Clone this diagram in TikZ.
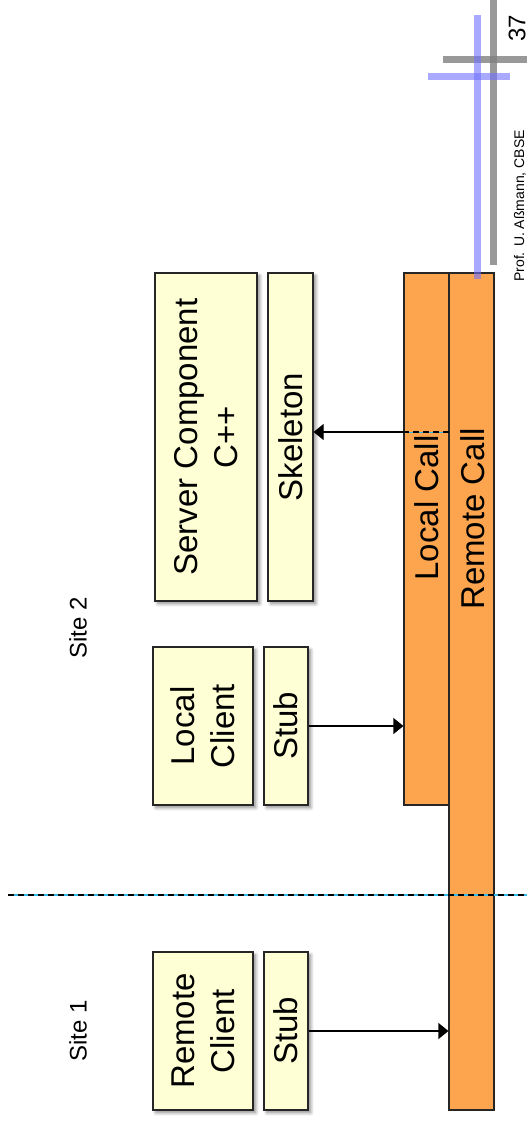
\documentclass[tikz,border=0pt]{standalone}
\usepackage{fontspec}
\setmainfont{Liberation Sans}
\usetikzlibrary{arrows.meta,shadows.blur}
\definecolor{boxyellow}{HTML}{FFFFD6}
\definecolor{callorange}{HTML}{FCA54E}
\definecolor{decoblue}{HTML}{7070FF}
\definecolor{decogray}{HTML}{808080}
\definecolor{sepcyan}{HTML}{33BBEE}
\begin{document}
\begin{tikzpicture}[x=0.5pt,y=-0.5pt,
  box/.style={draw=black!85, fill=boxyellow, line width=0.6pt, rotate=90, inner sep=0pt,
    align=center, font=\fontsize{16.5}{20}\selectfont,
    blur shadow={shadow xshift=1.4pt, shadow yshift=-1.4pt, shadow opacity=45, shadow blur radius=1.6pt, shadow blur steps=6}},
  bar/.style={draw=black!85, fill=callorange, line width=0.6pt, rotate=90, inner sep=0pt,
    minimum height=22.5pt},
  barlabel/.style={rotate=90, inner sep=0pt, font=\fontsize{16.5}{20}\selectfont},
  sitelabel/.style={rotate=90, inner sep=0pt, font=\fontsize{12}{14}\selectfont},
  arr/.style={-{Triangle[length=5pt,width=8pt]}, line width=0.6pt, black},
  deco/.style={line width=3.5pt}
]
\useasboundingbox (0,0) rectangle (531,1121);

% call bars
\node[bar, minimum width=418.5pt] (remotecall) at (471.5,691.5) {};
\node[bar, minimum width=266pt] (localcall) at (426.5,539) {};
\node[barlabel] (lcl) at (427,508) {Local Call};
\node[barlabel] (rcl) at (473,519) {Remote Call};

% components
\node[box, minimum width=164pt, minimum height=51pt] (server) at (206,437) {Server Component\\C++};
\node[box, minimum width=164pt, minimum height=22.5pt] (skeleton) at (290.5,437) {Skeleton};
\node[box, minimum width=79pt, minimum height=50pt] (localclient) at (203,726) {Local\\Client};
\node[box, minimum width=79pt, minimum height=22pt] (stubl) at (286,726) {Stub};
\node[box, minimum width=79pt, minimum height=50pt] (remoteclient) at (203,1031) {Remote\\Client};
\node[box, minimum width=79pt, minimum height=22pt] (stubr) at (286,1031) {Stub};

% site labels
\node[sitelabel] (site1) at (78,1031) {Site 1};
\node[sitelabel] (site2) at (78,628) {Site 2};

% arrows
\draw[arr] (stubl.south) -- (stubl.south -| localcall.north);
\draw[arr] (stubr.south) -- (stubr.south -| remotecall.north);
\coordinate (skc) at (449,432);
\draw[arr] (skc -| localcall.north) -- (skc -| skeleton.south);
\draw[sepcyan, line width=0.5pt] (skc -| localcall.north) -- (skc);
\draw[black, line width=0.6pt, dash pattern=on 3pt off 2pt] (skc -| localcall.north) -- (skc);

% site separator
\coordinate (sepa) at (8,895);
\coordinate (sepb) at (527,895);
\draw[sepcyan, line width=0.6pt] (sepa) -- (sepb);
\draw[black, line width=0.7pt, dash pattern=on 3.2pt off 1.8pt] (sepa) -- (sepb);

% decoration
\draw[deco, decogray, opacity=0.8] (493,0) -- (493,265);
\draw[deco, decogray, opacity=0.8] (443,59) -- (527,59);
\draw[deco, decoblue, opacity=0.6] (477,15) -- (477,279);
\draw[deco, decoblue, opacity=0.6] (428,76) -- (510,76);

% footer
\node[rotate=90, inner sep=0pt, font=\fontsize{7}{8}\selectfont] (footer) at (520,206) {Prof. U. Aßmann, CBSE};
\node[rotate=90, inner sep=0pt, font=\fontsize{12}{14}\selectfont] (pagenum) at (517,28) {37};
\end{tikzpicture}
\end{document}
